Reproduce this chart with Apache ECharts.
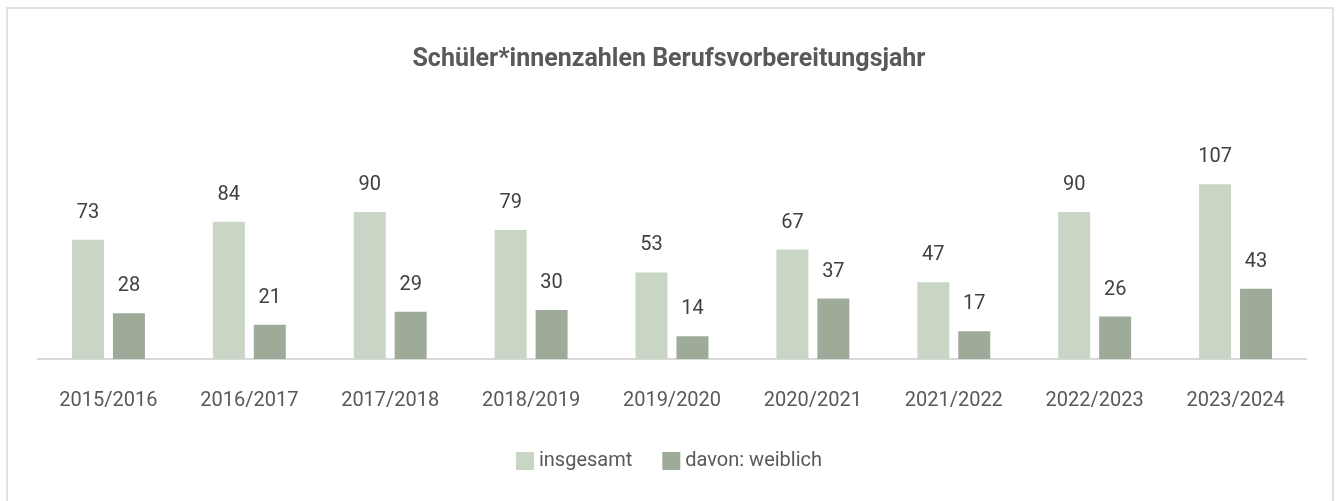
<!DOCTYPE html>
<html>
<head>
<meta charset="utf-8">
<script src="https://cdn.jsdelivr.net/npm/echarts@6/dist/echarts.min.js"></script>
<style>
  html, body { margin: 0; padding: 0; background: #fff; }
  #chart { width: 1338px; height: 501px; }
</style>
</head>
<body>
<div id="chart"></div>
<script>
let years = ['2015/2016', '2016/2017', '2017/2018', '2018/2019', '2019/2020',
  '2020/2021', '2021/2022', '2022/2023', '2023/2024'];
let gesamt = [73, 84, 90, 79, 53, 67, 47, 90, 107];
let weiblich = [28, 21, 29, 30, 14, 37, 17, 26, 43];

let myChart = echarts.init(document.getElementById('chart'));
let labelStyle = {
  show: true,
  position: 'top',
  distance: 17,
  color: '#404040',
  fontSize: 20,
  fontFamily: 'Roboto'
};
let option = {
  backgroundColor: '#fff',
  animation: false,
  title: {
    text: 'Schüler*innenzahlen Berufsvorbereitungsjahr',
    left: 'center',
    top: 42,
    textStyle: {
      color: '#595959',
      fontSize: 25,
      fontWeight: 'bold',
      fontFamily: 'Roboto'
    }
  },
  graphic: [{
    type: 'rect',
    shape: {x: 7, y: 8, width: 1326, height: 520},
    style: {fill: 'none', stroke: '#d9d9d9', lineWidth: 1.5},
    silent: true
  }],
  legend: {
    bottom: 25,
    left: 'center',
    itemWidth: 18,
    itemHeight: 18,
    itemGap: 30,
    icon: 'rect',
    textStyle: {color: '#595959', fontSize: 20, fontFamily: 'Roboto'},
    data: ['insgesamt', 'davon: weiblich']
  },
  grid: {
    left: 38,
    right: 32,
    top: 163,
    bottom: 142
  },
  xAxis: {
    type: 'category',
    data: years,
    axisLine: {lineStyle: {color: '#d9d9d9', width: 2}},
    axisTick: {show: false},
    axisLabel: {
      color: '#595959',
      fontSize: 20,
      fontFamily: 'Roboto',
      margin: 32
    }
  },
  yAxis: {
    type: 'value',
    min: 0,
    max: 120,
    show: false
  },
  series: [
    {
      name: 'insgesamt',
      type: 'bar',
      barWidth: 32,
      barGap: '28%',
      itemStyle: {color: '#c9d6c5'},
      label: labelStyle,
      data: gesamt
    },
    {
      name: 'davon: weiblich',
      type: 'bar',
      barWidth: 32,
      itemStyle: {color: '#9eab98'},
      label: labelStyle,
      data: weiblich
    }
  ]
};
myChart.setOption(option);
</script>
</body>
</html>
